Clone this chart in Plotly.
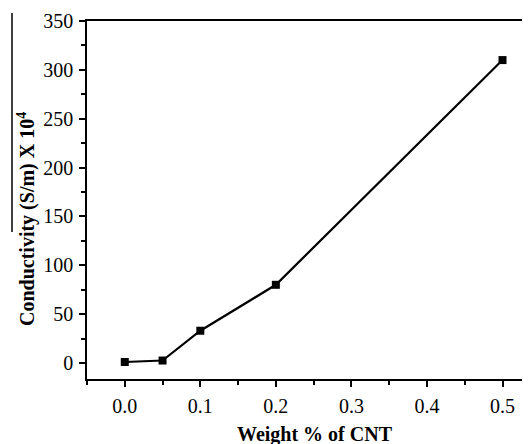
import plotly.graph_objects as go

wt_cnt = [0.0, 0.05, 0.1, 0.2, 0.5]
conductivity = [1, 2.5, 33, 80, 310]

x_ticks = [0.0, 0.1, 0.2, 0.3, 0.4, 0.5]
x_labels = ["0.0", "0.1", "0.2", "0.3", "0.4", "0.5"]
y_ticks = [0, 50, 100, 150, 200, 250, 300, 350]

fig = go.Figure()
fig.add_trace(go.Scatter(
    x=wt_cnt, y=conductivity, mode="lines+markers",
    line=dict(color="black", width=2.2),
    marker=dict(symbol="square", size=8, color="black"),
    showlegend=False,
))

font = dict(family="Liberation Serif", size=20, color="black")
tfont = dict(family="Liberation Serif", size=20, color="black")
PW, PH = 443, 358  # plot area size in px

fig.update_layout(
    width=522, height=436,
    margin=dict(l=79, r=0, t=13, b=65),
    paper_bgcolor="white", plot_bgcolor="white",
    font=font,
    xaxis=dict(
        range=[-0.05, 0.5364], tickvals=x_ticks, ticktext=x_labels,
        ticks="outside", ticklen=6, tickwidth=1.5, tickcolor="black",
        showline=True, linecolor="black", linewidth=1.5, mirror=True,
        showgrid=False, zeroline=False,
        minor=dict(tickvals=[-0.05, 0.05, 0.15, 0.25, 0.35, 0.45], ticks="outside",
                   ticklen=4, tickwidth=1.5, tickcolor="black"),
        tickfont=font, ticklabelstandoff=2,
    ),
    yaxis=dict(
        range=[-16.4, 350], tickvals=y_ticks,
        ticks="outside", ticklen=6, tickwidth=1.5, tickcolor="black",
        showline=True, linecolor="black", linewidth=1.5,
        showgrid=False, zeroline=False,
        minor=dict(dtick=25, tick0=0, ticks="outside", ticklen=4, tickwidth=1.5, tickcolor="black"),
        tickfont=font, ticklabelstandoff=2,
    ),
    annotations=[
        dict(text="<b>Weight % of CNT</b>", xref="paper", yref="paper",
             x=(315 - 87) / PW, y=-(434 - 379) / PH, xanchor="center", yanchor="middle",
             showarrow=False, font=tfont),
        dict(text="<b>Conductivity (S/m) X 10<sup>4</sup></b>", xref="paper", yref="paper",
             x=-(87 - 26) / PW, y=(379 - 219) / PH, xanchor="center", yanchor="middle",
             textangle=-90, showarrow=False, font=tfont),
    ],
    shapes=[
        dict(type="line", xref="paper", yref="paper",
             x0=-(87 - 12) / PW, x1=-(87 - 12) / PW,
             y0=(379 - 13) / PH, y1=(379 - 232) / PH,
             line=dict(color="black", width=1.5)),
    ],
)

fig.write_html("out.html")
